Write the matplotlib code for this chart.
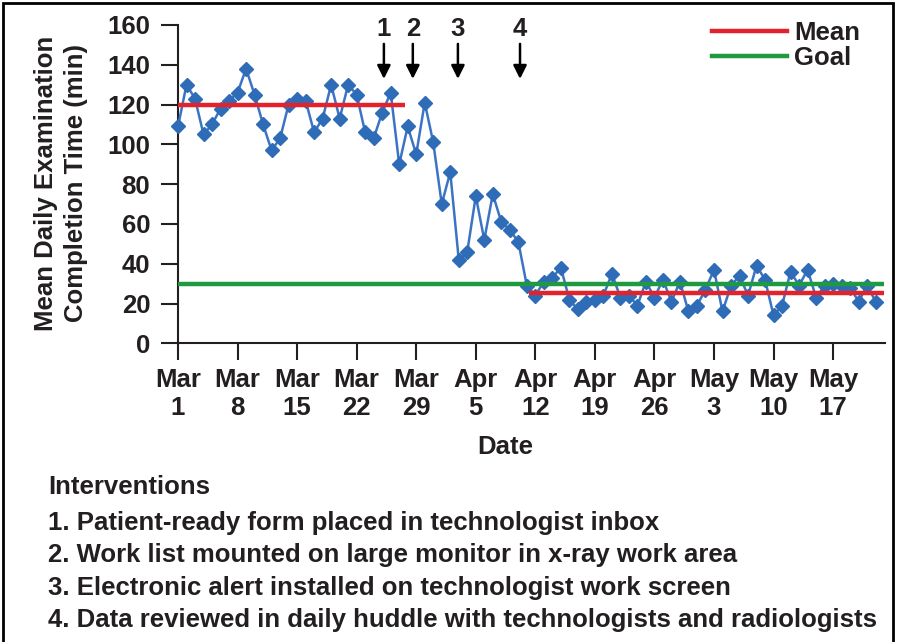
import numpy as np
import matplotlib
matplotlib.use("Agg")
import matplotlib.pyplot as plt
from matplotlib.lines import Line2D
from matplotlib.patches import Rectangle

plt.rcParams['font.family'] = ['Liberation Sans', 'DejaVu Sans']

# ---- data ----
values = [109, 130, 123, 105, 110, 118, 122, 126, 138, 125,
          110, 97, 103, 120, 123, 122, 106, 113, 130, 113,
          130, 125, 106, 103, 116, 126, 90, 109, 95, 121,
          101, 70, 86, 42, 46, 74, 52, 75, 61, 57,
          51, 29, 24, 31, 33, 38, 22, 17, 21, 22,
          24, 35, 23, 24, 19, 31, 23, 32, 21, 31,
          16, 19, 27, 37, 16, 29, 34, 24, 39, 32,
          14, 19, 36, 29, 37, 23, 29, 30, 29, 28,
          21, 29, 21]
tick_days = [0, 7, 14, 21, 28, 35, 42, 49, 56, 63, 70, 77]
tick_labels = ["Mar\n1", "Mar\n8", "Mar\n15", "Mar\n22", "Mar\n29", "Apr\n5",
               "Apr\n12", "Apr\n19", "Apr\n26", "May\n3", "May\n10", "May\n17"]
mean_before, mean_before_span = 120, (0, 26.7)
mean_after, mean_after_span = 25.5, (41.3, 83)
goal, goal_span = 30, (0, 83)
intervention_labels = ["1", "2", "3", "4"]
intervention_days = [24.2, 27.6, 32.9, 40.2]
intervention_texts = ["1. Patient-ready form placed in technologist inbox",
                      "2. Work list mounted on large monitor in x-ray work area",
                      "3. Electronic alert installed on technologist work screen",
                      "4. Data reviewed in daily huddle with technologists and radiologists"]

W, H = 897, 642
fig = plt.figure(figsize=(W / 100, H / 100), dpi=100)
ax = fig.add_axes([178 / W, 1 - 343.3 / H, (885 - 178) / W, (343.3 - 25) / H])

days = np.arange(len(values))
ax.plot(days, values, color='#3b74c4', lw=1.8, marker='D', markersize=7,
        markerfacecolor='#2f6cb8', markeredgecolor='#2f6cb8', zorder=3, clip_on=False)

red = '#e3232c'
green = '#1f9a40'
ax.plot(mean_before_span, [mean_before] * 2, color=red, lw=3.2, zorder=4, solid_capstyle='butt')
ax.plot(mean_after_span, [mean_after] * 2, color=red, lw=3.2, zorder=4, solid_capstyle='butt')
ax.plot(goal_span, [goal] * 2, color=green, lw=3.2, zorder=4, solid_capstyle='butt')

ax.set_xlim(0, 83.1)
ax.set_ylim(0, 160)
ax.set_yticks(range(0, 161, 20))
ax.set_xticks(tick_days)
ax.set_xticklabels(tick_labels, linespacing=1.17)

for s in ['top', 'right']:
    ax.spines[s].set_visible(False)
for s in ['left', 'bottom']:
    ax.spines[s].set_linewidth(1.5)
    ax.spines[s].set_color('#231f20')

fs = 18.5
ax.tick_params(axis='both', direction='out', length=12, width=1.5, color='#231f20',
               labelsize=fs, labelcolor='#231f20')
ax.tick_params(axis='y', pad=8)
ax.tick_params(axis='x', pad=6)
for lab in ax.get_xticklabels() + ax.get_yticklabels():
    lab.set_fontweight('bold')

# arrows for interventions
for lab, d in zip(intervention_labels, intervention_days):
    ax.annotate('', xy=(d, 132.9), xytext=(d, 150.5),
                arrowprops=dict(arrowstyle='-|>', lw=1.8, color='black',
                                mutation_scale=20, shrinkA=0, shrinkB=0),
                annotation_clip=False)
    ax.text(d, 158, lab, ha='center', va='center', fontsize=fs,
            fontweight='bold', color='#231f20', clip_on=False)

# legend
handles = [Line2D([0], [0], color=red, lw=3.2), Line2D([0], [0], color=green, lw=3.2)]
leg = ax.legend(handles, ["Mean", "Goal"], loc='upper left',
                bbox_to_anchor=(712 / W, 1 - 21 / H), bbox_transform=fig.transFigure,
                frameon=False, borderpad=0, borderaxespad=0, handlelength=2.9,
                handletextpad=0.3, labelspacing=0.02, prop=dict(size=fs, weight='bold'))
for t in leg.get_texts():
    t.set_color('#231f20')

# axis labels
fig.text(61 / W, 1 - 183 / H, "Mean Daily Examination\nCompletion Time (min)",
         rotation=90, ha='center', va='center', fontsize=fs, fontweight='bold',
         color='#231f20', linespacing=1.3)
fig.text(505 / W, 1 - 447 / H, "Date", ha='center', va='center', fontsize=fs,
         fontweight='bold', color='#231f20')

# interventions text
fig.text(48 / W, 1 - 487 / H, "Interventions", ha='left', va='center', fontsize=fs,
         fontweight='bold', color='#231f20')
for i, t in enumerate(intervention_texts):
    fig.text(48 / W, 1 - (523 + 32.3 * i) / H, t, ha='left', va='center',
             fontsize=fs, fontweight='bold', color='#231f20')

# frame
fig.patches.append(Rectangle((3 / W, -0.05), 890 / W, 1.05 - 3 / H, transform=fig.transFigure,
                             fill=False, lw=2, ec='black'))

fig.savefig("out.png", dpi=100, facecolor='white')
